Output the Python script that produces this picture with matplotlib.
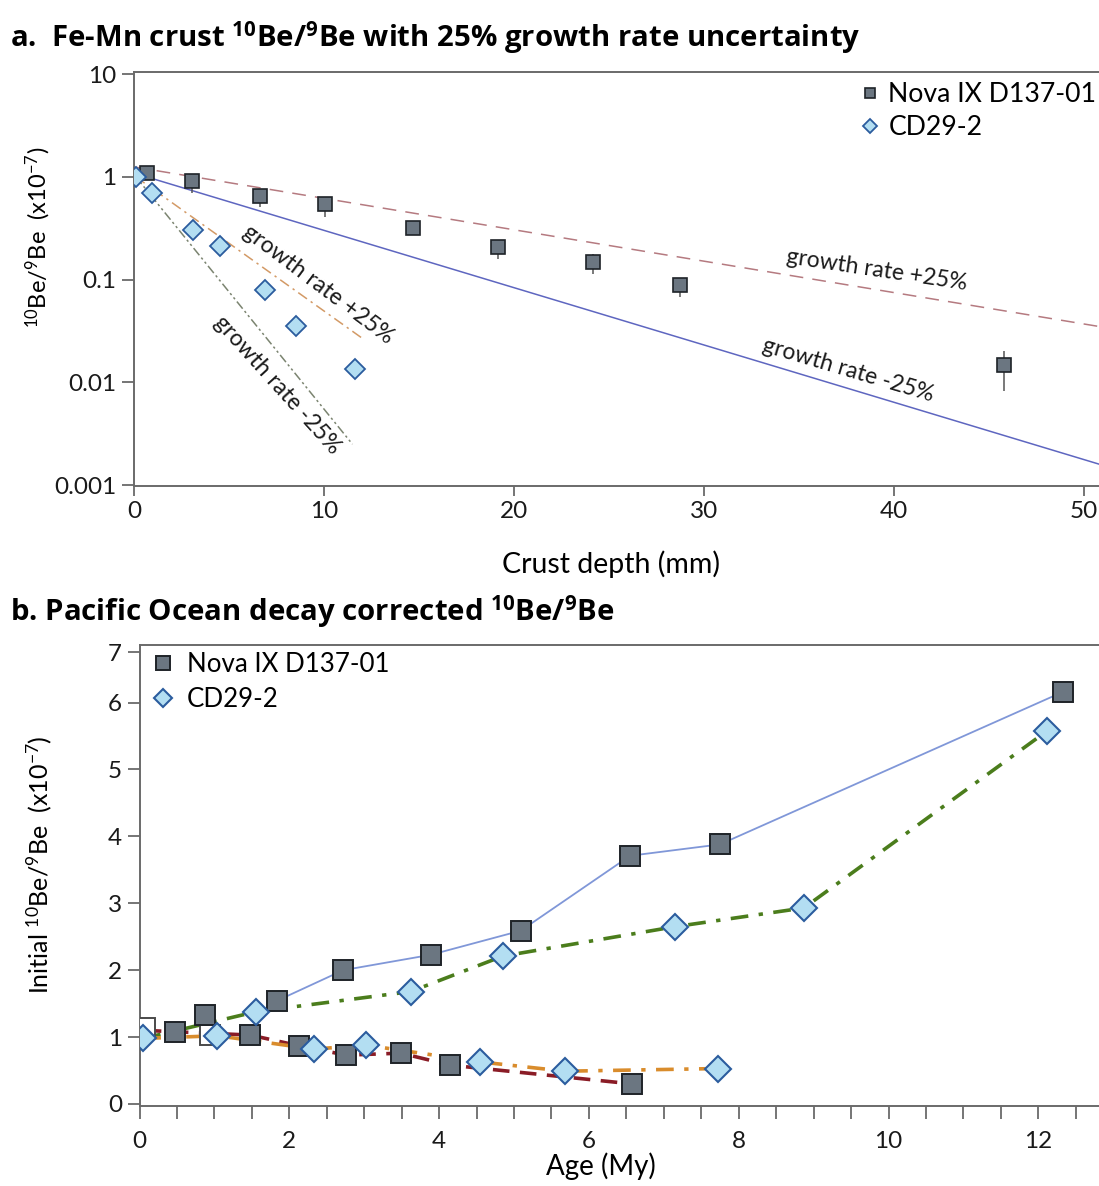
import matplotlib
matplotlib.use('Agg')
import matplotlib.pyplot as plt
from matplotlib.ticker import MultipleLocator, FixedLocator, NullLocator

plt.rcParams['font.family'] = ['Lato', 'DejaVu Sans']
plt.rcParams['mathtext.fontset'] = 'custom'
plt.rcParams['mathtext.rm'] = 'Lato'
plt.rcParams['mathtext.it'] = 'Lato'
plt.rcParams['mathtext.bf'] = 'Open Sans:bold'

# ---- panel a: crust depth (mm) vs 10Be/9Be (x1e-7) ----
nova_depth = [0.66, 3.03, 6.63, 10.08, 14.69, 19.14, 24.16, 28.76, 45.8]
nova_ratio = [1.10, 0.91, 0.65, 0.54, 0.315, 0.207, 0.150, 0.088, 0.0146]
nova_lo = [1.00, 0.70, 0.51, 0.41, 0.29, 0.158, 0.113, 0.068, 0.0082]
nova_hi = [1.20, 1.06, 0.715, 0.59, 0.34, 0.235, 0.178, 0.100, 0.020]

cd_depth = [0.1, 0.93, 3.12, 4.52, 6.88, 8.54, 11.61]
cd_ratio = [1.0, 0.69, 0.304, 0.213, 0.080, 0.035, 0.0136]

nova_plus_depth = [0, 50.8]
nova_plus_ratio = [1.25, 0.035]
nova_minus_depth = [0, 50.8]
nova_minus_ratio = [1.09, 0.0016]
cd_plus_depth = [0.1, 12.0]
cd_plus_ratio = [1.0, 0.027]
cd_minus_depth = [0.1, 11.5]
cd_minus_ratio = [1.0, 0.0025]

# ---- panel b: age (My) vs initial 10Be/9Be (x1e-7) ----
nova_age = [0.47, 0.87, 1.48, 1.83, 2.13, 2.72, 2.76, 3.49, 3.89, 4.15, 5.09, 6.55, 6.58, 7.75, 12.33]
nova_val = [1.08, 1.33, 1.03, 1.54, 0.87, 2.00, 0.73, 0.76, 2.23, 0.58, 2.59, 3.71, 0.30, 3.88, 6.16]
nova_open_age = [0.07, 0.94]
nova_open_val = [1.13, 1.03]

cd_age = [0.05, 1.04, 1.56, 2.33, 3.02, 3.62, 4.54, 4.85, 5.68, 7.15, 7.73, 8.87, 12.11]
cd_val = [0.98, 1.02, 1.38, 0.82, 0.88, 1.68, 0.63, 2.21, 0.49, 2.65, 0.53, 2.93, 5.57]

blue_age = [1.83, 2.72, 3.89, 5.09, 6.55, 7.75, 12.33]
blue_val = [1.54, 2.00, 2.23, 2.59, 3.71, 3.88, 6.16]
red_age = [0.07, 0.47, 1.48, 2.13, 2.76, 3.49, 4.15, 6.58]
red_val = [1.10, 1.08, 1.03, 0.87, 0.73, 0.76, 0.58, 0.30]
green_age = [0.05, 1.56, 3.62, 4.85, 7.15, 8.87, 12.11]
green_val = [0.98, 1.38, 1.68, 2.21, 2.65, 2.93, 5.57]
orange_age = [0.05, 1.04, 2.33, 3.02, 4.54, 5.68, 7.73]
orange_val = [0.98, 1.02, 0.82, 0.88, 0.63, 0.49, 0.53]

yb_ticks = [0, 1, 2, 3, 4, 5, 6, 6.75]
yb_labels = ['0', '1', '2', '3', '4', '5', '6', '7']

sq_face = '#6b7681'
sq_edge = '#1e2328'
di_face = '#b3def2'
di_edge = '#2b5c9e'
spine_c = '#6a6a6a'

W, H = 1099, 1186
fig = plt.figure(figsize=(W / 100, H / 100), dpi=100)
fig.patch.set_facecolor('white')


def style_axes(ax):
    for s in ['left', 'bottom', 'top']:
        ax.spines[s].set_color(spine_c)
        ax.spines[s].set_linewidth(1.4)
    ax.spines['right'].set_visible(False)
    ax.tick_params(which='both', direction='out', color=spine_c, width=1.3,
                   length=9, labelsize=17.5, labelcolor='#1a1a1a', top=False, right=False)


# panel a
axa = fig.add_axes([134 / W, 1 - 486 / H, (W - 134) / W, (486 - 72) / H])
axa.set_yscale('log')
axa.plot(nova_plus_depth, nova_plus_ratio, color='#b57a80', lw=1.1, dashes=(9, 6))
axa.plot(nova_minus_depth, nova_minus_ratio, color='#5e66c0', lw=1.1)
axa.plot(cd_plus_depth, cd_plus_ratio, color='#d39a66', lw=1.1, dashes=(7, 3, 1.5, 3))
axa.plot(cd_minus_depth, cd_minus_ratio, color='#7b8470', lw=1.1, dashes=(6, 2, 1.5, 2, 1.5, 2))
err_lo = [r - l for r, l in zip(nova_ratio, nova_lo)]
err_hi = [h - r for r, h in zip(nova_ratio, nova_hi)]
axa.errorbar(nova_depth, nova_ratio, yerr=[err_lo, err_hi], fmt='none', ecolor='#555555',
             elinewidth=1.1, capsize=0, zorder=3)
axa.plot(nova_depth, nova_ratio, 's', ms=9.5, mfc=sq_face, mec=sq_edge, mew=1.2,
         label='Nova IX D137-01', zorder=4)
axa.plot(cd_depth, cd_ratio, 'D', ms=10, mfc=di_face, mec=di_edge, mew=1.3,
         label='CD29-2', zorder=5)
axa.set_xlim(0, 50.8)
axa.set_ylim(0.00098, 10.5)
axa.xaxis.set_major_locator(MultipleLocator(10))
axa.yaxis.set_major_locator(FixedLocator([0.001, 0.01, 0.1, 1, 10]))
axa.yaxis.set_minor_locator(NullLocator())
axa.set_yticklabels(['0.001', '0.01', '0.1', '1', '10'])
style_axes(axa)
axa.tick_params(axis='x', length=7)
axa.set_xlabel('Crust depth (mm)', fontsize=20.5)
axa.xaxis.set_label_coords(0.494, -0.155)
axa.set_ylabel(r'$^{10}$Be/$^{9}$Be  (x10$^{-7}$)', fontsize=17)
axa.yaxis.set_label_coords(-0.084, 0.6)
axa.legend(loc='upper left', bbox_to_anchor=(859 / W, 1 - 82 / H), bbox_transform=fig.transFigure,
           frameon=False, fontsize=19.2, markerscale=0.75, handletextpad=0.3, handlelength=0.8,
           labelspacing=0.3, borderaxespad=0, borderpad=0)

txt_kw = dict(fontsize=16.5, color='#1a1a1a', ha='center', va='center', rotation_mode='anchor')
axa.text(9.68, 0.089, 'growth rate +25%', rotation=-37, **txt_kw)
axa.text(7.56, 0.0095, 'growth rate -25%', rotation=-48, **txt_kw)
axa.text(39.1, 0.124, 'growth rate +25%', rotation=-8.5, **txt_kw)
axa.text(37.6, 0.0131, 'growth rate -25%', rotation=-16.5, **txt_kw)

# panel b
axb = fig.add_axes([139.5 / W, 1 - 1106 / H, (W - 139.5) / W, (1106 - 645) / H])
axb.plot(blue_age, blue_val, color='#8097d8', lw=1.3, zorder=2)
axb.plot(green_age, green_val, color='#4b7d1c', lw=2.6, dashes=(4.9, 2.9, 1.2, 2.9), zorder=2)
axb.plot(red_age, red_val, color='#8a1c26', lw=2.6, dashes=(4.6, 2.9), zorder=2)
axb.plot(orange_age, orange_val, color='#d98c2c', lw=2.6, dashes=(4.9, 2.9, 1.2, 2.9), zorder=2)
axb.plot(nova_open_age, nova_open_val, 's', ms=14, mfc='white', mec='#4a4a4a', mew=1.4, zorder=3)
axb.plot(nova_age, nova_val, 's', ms=14, mfc=sq_face, mec=sq_edge, mew=1.4,
         label='Nova IX D137-01', zorder=4)
axb.plot(cd_age, cd_val, 'D', ms=13, mfc=di_face, mec=di_edge, mew=1.5,
         label='CD29-2', zorder=5)
axb.set_xlim(0, 12.81)
axb.set_ylim(-0.03, 6.86)
axb.xaxis.set_major_locator(MultipleLocator(2))
axb.xaxis.set_minor_locator(MultipleLocator(0.5))
axb.yaxis.set_major_locator(FixedLocator(yb_ticks))
axb.set_yticklabels(yb_labels)
style_axes(axb)
axb.tick_params(axis='x', which='both', length=9, width=1.3, color=spine_c, pad=9)
axb.set_xlabel('Age (My)', fontsize=20)
axb.xaxis.set_label_coords(0.481, -0.1)
axb.set_ylabel(r'Initial $^{10}$Be/$^{9}$Be  (x10$^{-7}$)', fontsize=18)
axb.yaxis.set_label_coords(-0.089, 0.523)
axb.legend(loc='upper left', bbox_to_anchor=(150 / W, 1 - 652 / H), bbox_transform=fig.transFigure,
           frameon=False, fontsize=18.6, markerscale=0.72, handletextpad=0.43, handlelength=1.0,
           labelspacing=0.4, borderaxespad=0, borderpad=0)

# panel titles
title_kw = dict(fontsize=21.2, fontweight='bold', family=['Open Sans', 'DejaVu Sans'],
                ha='left', va='center')
fig.text(10 / W, 1 - 38 / H, r'a.  Fe-Mn crust $^{\mathbf{10}}$Be/$^{\mathbf{9}}$Be with 25% growth rate uncertainty',
         **title_kw)
fig.text(10 / W, 1 - 612 / H, r'b. Pacific Ocean decay corrected $^{\mathbf{10}}$Be/$^{\mathbf{9}}$Be',
         **title_kw)

fig.savefig('out.png', dpi=100, facecolor='white')
